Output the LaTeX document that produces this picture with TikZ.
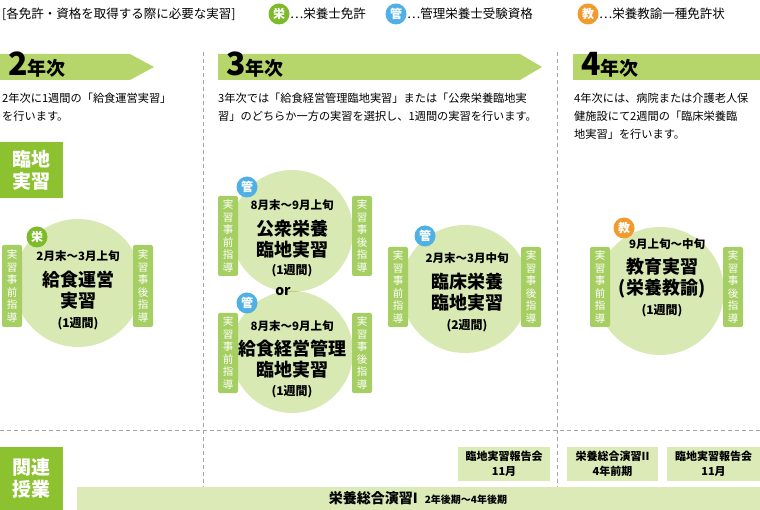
\documentclass[tikz,border=0pt]{standalone}
\usepackage{fontspec}
\setmainfont{Noto Sans CJK JP}
\begin{document}
\begin{tikzpicture}[x=1pt,y=-1pt,
  circ/.style={fill=cLight},
  tab/.style={fill=cTab,rounded corners=2pt},
  tabt/.style={text=white,font=\fontsize{10.5}{12.5}\selectfont,align=center,inner sep=0},
  badge/.style={circle,minimum size=21pt,inner sep=0,text=white,font=\fontsize{12}{12}\selectfont\bfseries},
  lbl/.style={fill=cDark,text=white,font=\fontsize{19}{22}\selectfont\bfseries,align=center,inner sep=0},
  dsh/.style={gray!70,dashed,line width=0.8pt,dash pattern=on 4pt off 3pt},
  desc/.style={anchor=north west,align=left,font=\fontsize{11.2}{18}\selectfont,inner sep=0},
  lg/.style={anchor=west,inner sep=0,font=\fontsize{12.5}{13}\selectfont},
  date/.style={font=\fontsize{11.5}{13}\selectfont\bfseries},
  ttl/.style={font=\fontsize{18}{21}\selectfont\bfseries,align=center},
  wk/.style={font=\fontsize{12}{13}\selectfont\bfseries},
  sbox/.style={fill=cBox,align=center,font=\fontsize{11}{15}\selectfont\bfseries,inner sep=0}]
\definecolor{cLight}{HTML}{D9E9B3}
\definecolor{cTab}{HTML}{A6CF63}
\definecolor{cDark}{HTML}{8CC230}
\definecolor{cBar}{HTML}{B6D66C}
\definecolor{cBox}{HTML}{DCEAB8}
\definecolor{cLens}{HTML}{B3D479}
\definecolor{cG}{HTML}{7DBB2A}
\definecolor{cB}{HTML}{4FB0E6}
\definecolor{cO}{HTML}{F29A2E}
\useasboundingbox (0,0) rectangle (760,510);
% legend
\node[lg] (hd) at (2,14) {[各免許・資格を取得する際に必要な実習]};
\node[badge,fill=cG] (l1) at (279,14) {栄};
\node[lg] (l1t) at (290,14) {…栄養士免許};
\node[badge,fill=cB] (l2) at (396,14) {管};
\node[lg] (l2t) at (407,14) {…管理栄養士受験資格};
\node[badge,fill=cO] (l3) at (588,14) {教};
\node[lg] (l3t) at (599,14) {…栄養教諭一種免許状};
% dashed lines
\draw[dsh] (203,52) -- (203,490);
\draw[dsh] (557,52) -- (557,490);
\draw[dsh] (0,430) -- (760,430);
% year bars
\fill[cBar] (0,54) -- (130,54) -- (154,67) -- (130,80) -- (0,80) -- cycle;
\fill[cBar] (218,54) -- (520,54) -- (542,67) -- (520,80) -- (218,80) -- cycle;
\fill[cBar] (573,54) rectangle (760,80);
\node[anchor=base west,inner sep=0] (y2) at (8,76) {\fontsize{32}{32}\selectfont\bfseries 2\fontsize{19}{19}\selectfont 年次};
\node[anchor=base west,inner sep=0] (y3) at (226,76) {\fontsize{32}{32}\selectfont\bfseries 3\fontsize{19}{19}\selectfont 年次};
\node[anchor=base west,inner sep=0] (y4) at (581,76) {\fontsize{32}{32}\selectfont\bfseries 4\fontsize{19}{19}\selectfont 年次};
% descriptions
\node[desc] (d2) at (2,93) {2年次に1週間の「給食運営実習」\\を行います。};
\node[desc] (d3) at (218,93) {3年次では「給食経営管理臨地実習」または「公衆栄養臨地実\\習」のどちらか一方の実習を選択し、1週間の実習を行います。};
\node[desc] (d4) at (574,93) {4年次には、病院または介護老人保\\健施設にて2週間の「臨床栄養臨\\地実習」を行います。};
% labels
\node[lbl,minimum width=63pt,minimum height=56pt] (rl) at (31.5,170) {臨地\\実習};
\node[lbl,minimum width=63pt,minimum height=63pt] (kr) at (31.5,478.5) {関連\\授業};
% circles
\fill[circ] (78,283) circle (64);
\fill[circ] (292,231) circle (61);
\fill[circ] (292,352) circle (61);
\begin{scope}\clip (292,231) circle (61); \fill[cLens] (292,352) circle (61);\end{scope}
\fill[circ] (465,289) circle (64);
\fill[circ] (660,291) circle (64);
\node[font=\fontsize{14}{14}\selectfont\bfseries] (or) at (283,292) {or};
% tabs
\newcommand{\mytab}[4]{\fill[tab] (#1,#2) rectangle (#1+20,#3);
  \node[tabt] at (#1+10,{(#2+#3)/2}) {#4};}
\def\pre{実\\習\\事\\前\\指\\導}
\def\post{実\\習\\事\\後\\指\\導}
\mytab{2}{245}{327}{\pre}\mytab{133}{245}{327}{\post}
\mytab{218}{196}{276}{\pre}\mytab{352}{196}{276}{\post}
\mytab{218}{313}{393}{\pre}\mytab{352}{313}{393}{\post}
\mytab{388}{247}{327}{\pre}\mytab{521}{247}{327}{\post}
\mytab{590}{247}{327}{\pre}\mytab{723}{247}{327}{\post}
% badges
\node[badge,fill=cG] (b1) at (37,237) {栄};
\node[badge,fill=cB] (b2) at (247,187) {管};
\node[badge,fill=cB] (b3) at (247,303) {管};
\node[badge,fill=cB] (b4) at (425,236) {管};
\node[badge,fill=cO] (b5) at (624,228) {教};
% circle texts
\node[date] at (78,256) {2月末～3月上旬};
\node[ttl] at (78,290) {給食運営\\実習};
\node[wk] at (78,324) {(1週間)};
\node[date] at (292,205) {8月末～9月上旬};
\node[ttl] at (292,239) {公衆栄養\\臨地実習};
\node[wk] at (292,271) {(1週間)};
\node[date] at (292,326) {8月末～9月上旬};
\node[ttl] at (292,359) {給食経営管理\\臨地実習};
\node[wk] at (292,392) {(1週間)};
\node[date] at (467,258) {2月末～3月中旬};
\node[ttl] at (467,292) {臨床栄養\\臨地実習};
\node[wk] at (467,326) {(2週間)};
\node[date] at (667,244) {9月上旬～中旬};
\node[ttl] at (662,278) {教育実習\\(栄養教諭)};
\node[wk] at (662,311) {(1週間)};
% bottom
\node[sbox,minimum width=92pt,minimum height=34pt] (s1) at (504,464) {臨地実習報告会\\11月};
\node[sbox,minimum width=91pt,minimum height=34pt] (s2) at (612.5,464) {栄養総合演習II\\4年前期};
\node[sbox,minimum width=93pt,minimum height=34pt] (s3) at (713.5,464) {臨地実習報告会\\11月};
\fill[cBox] (77,487) rectangle (760,510);
\node[inner sep=0] (bar) at (418,498.5) {\fontsize{14}{14}\selectfont\bfseries 栄養総合演習I\enspace\fontsize{10}{10}\selectfont 2年後期～4年後期};
\end{tikzpicture}
\end{document}
